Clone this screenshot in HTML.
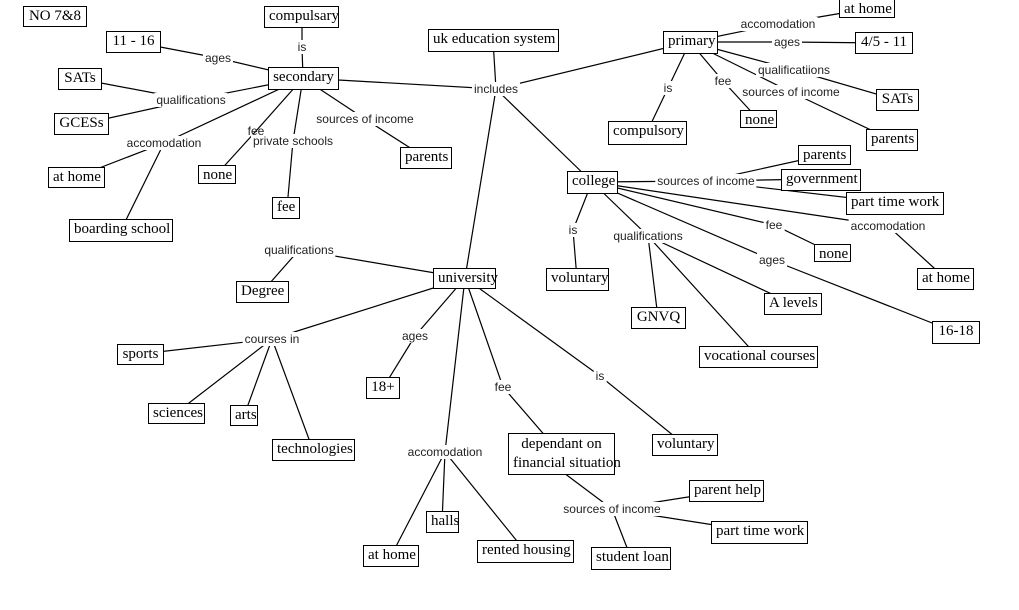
<!DOCTYPE html>
<html><head><meta charset="utf-8"><style>
body{margin:0;background:#fff;width:1019px;height:610px;position:relative;overflow:hidden}
svg{position:absolute;left:0;top:0}
.b{position:absolute;border:1px solid #000;background:#fff;font:15px "Liberation Serif",serif;white-space:nowrap;padding:0 4px;line-height:19px;box-sizing:border-box;text-align:center}
.l{position:absolute;background:#fff;font:12px "Liberation Sans",sans-serif;color:#222;white-space:nowrap;transform:translate(-50%,-50%);padding:0 2px;line-height:14px}
</style></head><body>
<svg width="1019" height="610" stroke="#000" stroke-width="1.2">
<g id="ln"></g>
<path d="M303 78L218 58L134 42 M303 78L302 47L302 17 M303 78L191 100L80 79 M191 100L82 124 M303 78L164 143L76 177 M164 143L121 230 M303 78L256 131L217 174 M303 78L293 141L287 208 M303 78L365 119L426 158 M303 78L496 89L493 40 M496 89L690 42 M496 89L592 182 M496 89L465 278
M690 42L778 24L866 9 M690 42L787 42L884 43 M690 42L794 70L897 100 M690 42L723 81L758 119 M690 42L791 92L892 140 M690 42L668 88L647 132
M592 182L706 181L824 155 M706 181L820 179 M706 181L894 203 M592 182L774 225L832 253 M592 182L888 226L945 278 M592 182L772 260L955 332 M592 182L573 230L577 279 M592 182L648 236L658 318 M648 236L793 304 M648 236L758 357
M465 278L299 250L262 292 M465 278L272 339L140 354 M272 339L176 413 M272 339L244 416 M272 339L313 450 M465 278L415 336L383 388 M465 278L503 387L560 453 M465 278L600 376L685 445 M465 278L445 452L391 556 M445 452L442 522 M445 452L525 551 M560 470L612 509L726 491 M612 509L759 532 M612 509L631 558" fill="none"/>
</svg>
<div class="b" style="left:23px;top:6px;width:64px;height:21px">NO 7&amp;8</div>
<div class="b" style="left:264px;top:6px;width:75px;height:22px">compulsary</div>
<div class="b" style="left:106px;top:31px;width:55px;height:22px">11 - 16</div>
<div class="b" style="left:268px;top:67px;width:71px;height:23px">secondary</div>
<div class="b" style="left:58px;top:68px;width:44px;height:22px">SATs</div>
<div class="b" style="left:54px;top:113px;width:55px;height:22px">GCESs</div>
<div class="b" style="left:48px;top:167px;width:57px;height:21px">at home</div>
<div class="b" style="left:198px;top:165px;width:38px;height:19px">none</div>
<div class="b" style="left:272px;top:197px;width:28px;height:22px">fee</div>
<div class="b" style="left:69px;top:219px;width:104px;height:23px">boarding school</div>
<div class="b" style="left:400px;top:147px;width:52px;height:22px">parents</div>
<div class="b" style="left:428px;top:29px;width:131px;height:23px">uk education system</div>
<div class="b" style="left:663px;top:31px;width:55px;height:23px">primary</div>
<div class="b" style="left:839px;top:-1px;width:56px;height:19px">at home</div>
<div class="b" style="left:855px;top:32px;width:58px;height:22px">4/5 - 11</div>
<div class="b" style="left:876px;top:89px;width:43px;height:22px">SATs</div>
<div class="b" style="left:740px;top:110px;width:37px;height:18px">none</div>
<div class="b" style="left:608px;top:121px;width:79px;height:24px">compulsory</div>
<div class="b" style="left:866px;top:129px;width:52px;height:22px">parents</div>
<div class="b" style="left:567px;top:171px;width:51px;height:23px">college</div>
<div class="b" style="left:798px;top:145px;width:53px;height:20px">parents</div>
<div class="b" style="left:781px;top:169px;width:80px;height:22px">government</div>
<div class="b" style="left:846px;top:192px;width:98px;height:23px">part time work</div>
<div class="b" style="left:814px;top:244px;width:37px;height:18px">none</div>
<div class="b" style="left:917px;top:268px;width:57px;height:22px">at home</div>
<div class="b" style="left:546px;top:268px;width:63px;height:23px">voluntary</div>
<div class="b" style="left:433px;top:268px;width:63px;height:21px">university</div>
<div class="b" style="left:236px;top:281px;width:53px;height:22px">Degree</div>
<div class="b" style="left:631px;top:307px;width:55px;height:22px">GNVQ</div>
<div class="b" style="left:764px;top:293px;width:58px;height:22px">A levels</div>
<div class="b" style="left:932px;top:321px;width:48px;height:23px">16-18</div>
<div class="b" style="left:699px;top:346px;width:119px;height:22px">vocational courses</div>
<div class="b" style="left:117px;top:344px;width:47px;height:21px">sports</div>
<div class="b" style="left:148px;top:403px;width:57px;height:21px">sciences</div>
<div class="b" style="left:230px;top:405px;width:28px;height:21px">arts</div>
<div class="b" style="left:272px;top:439px;width:83px;height:22px">technologies</div>
<div class="b" style="left:366px;top:377px;width:34px;height:22px">18+</div>
<div class="b" style="left:652px;top:434px;width:66px;height:22px">voluntary</div>
<div class="b" style="left:508px;top:433px;width:107px;height:42px;line-height:19px;padding-top:1px">dependant on<br>financial situation</div>
<div class="b" style="left:689px;top:480px;width:75px;height:22px">parent help</div>
<div class="b" style="left:711px;top:521px;width:97px;height:23px">part time work</div>
<div class="b" style="left:591px;top:547px;width:80px;height:23px">student loan</div>
<div class="b" style="left:426px;top:511px;width:33px;height:22px">halls</div>
<div class="b" style="left:477px;top:540px;width:97px;height:23px">rented housing</div>
<div class="b" style="left:363px;top:545px;width:56px;height:22px">at home</div>

<div class="l" style="left:218px;top:58px">ages</div>
<div class="l" style="left:302px;top:47px">is</div>
<div class="l" style="left:191px;top:100px">qualifications</div>
<div class="l" style="left:164px;top:143px">accomodation</div>
<div class="l" style="left:293px;top:141px">private schools</div>
<div class="l" style="left:256px;top:131px;background:transparent">fee</div>
<div class="l" style="left:365px;top:119px">sources of income</div>
<div class="l" style="left:496px;top:89px">includes</div>
<div class="l" style="left:778px;top:24px">accomodation</div>
<div class="l" style="left:787px;top:42px">ages</div>
<div class="l" style="left:794px;top:70px">qualificatiions</div>
<div class="l" style="left:723px;top:81px">fee</div>
<div class="l" style="left:791px;top:92px">sources of income</div>
<div class="l" style="left:668px;top:88px">is</div>
<div class="l" style="left:706px;top:181px">sources of income</div>
<div class="l" style="left:774px;top:225px">fee</div>
<div class="l" style="left:888px;top:226px">accomodation</div>
<div class="l" style="left:772px;top:260px">ages</div>
<div class="l" style="left:573px;top:230px">is</div>
<div class="l" style="left:648px;top:236px">qualifications</div>
<div class="l" style="left:299px;top:250px">qualifications</div>
<div class="l" style="left:272px;top:339px">courses in</div>
<div class="l" style="left:415px;top:336px">ages</div>
<div class="l" style="left:503px;top:387px">fee</div>
<div class="l" style="left:600px;top:376px">is</div>
<div class="l" style="left:445px;top:452px">accomodation</div>
<div class="l" style="left:612px;top:509px">sources of income</div>
</body></html>
